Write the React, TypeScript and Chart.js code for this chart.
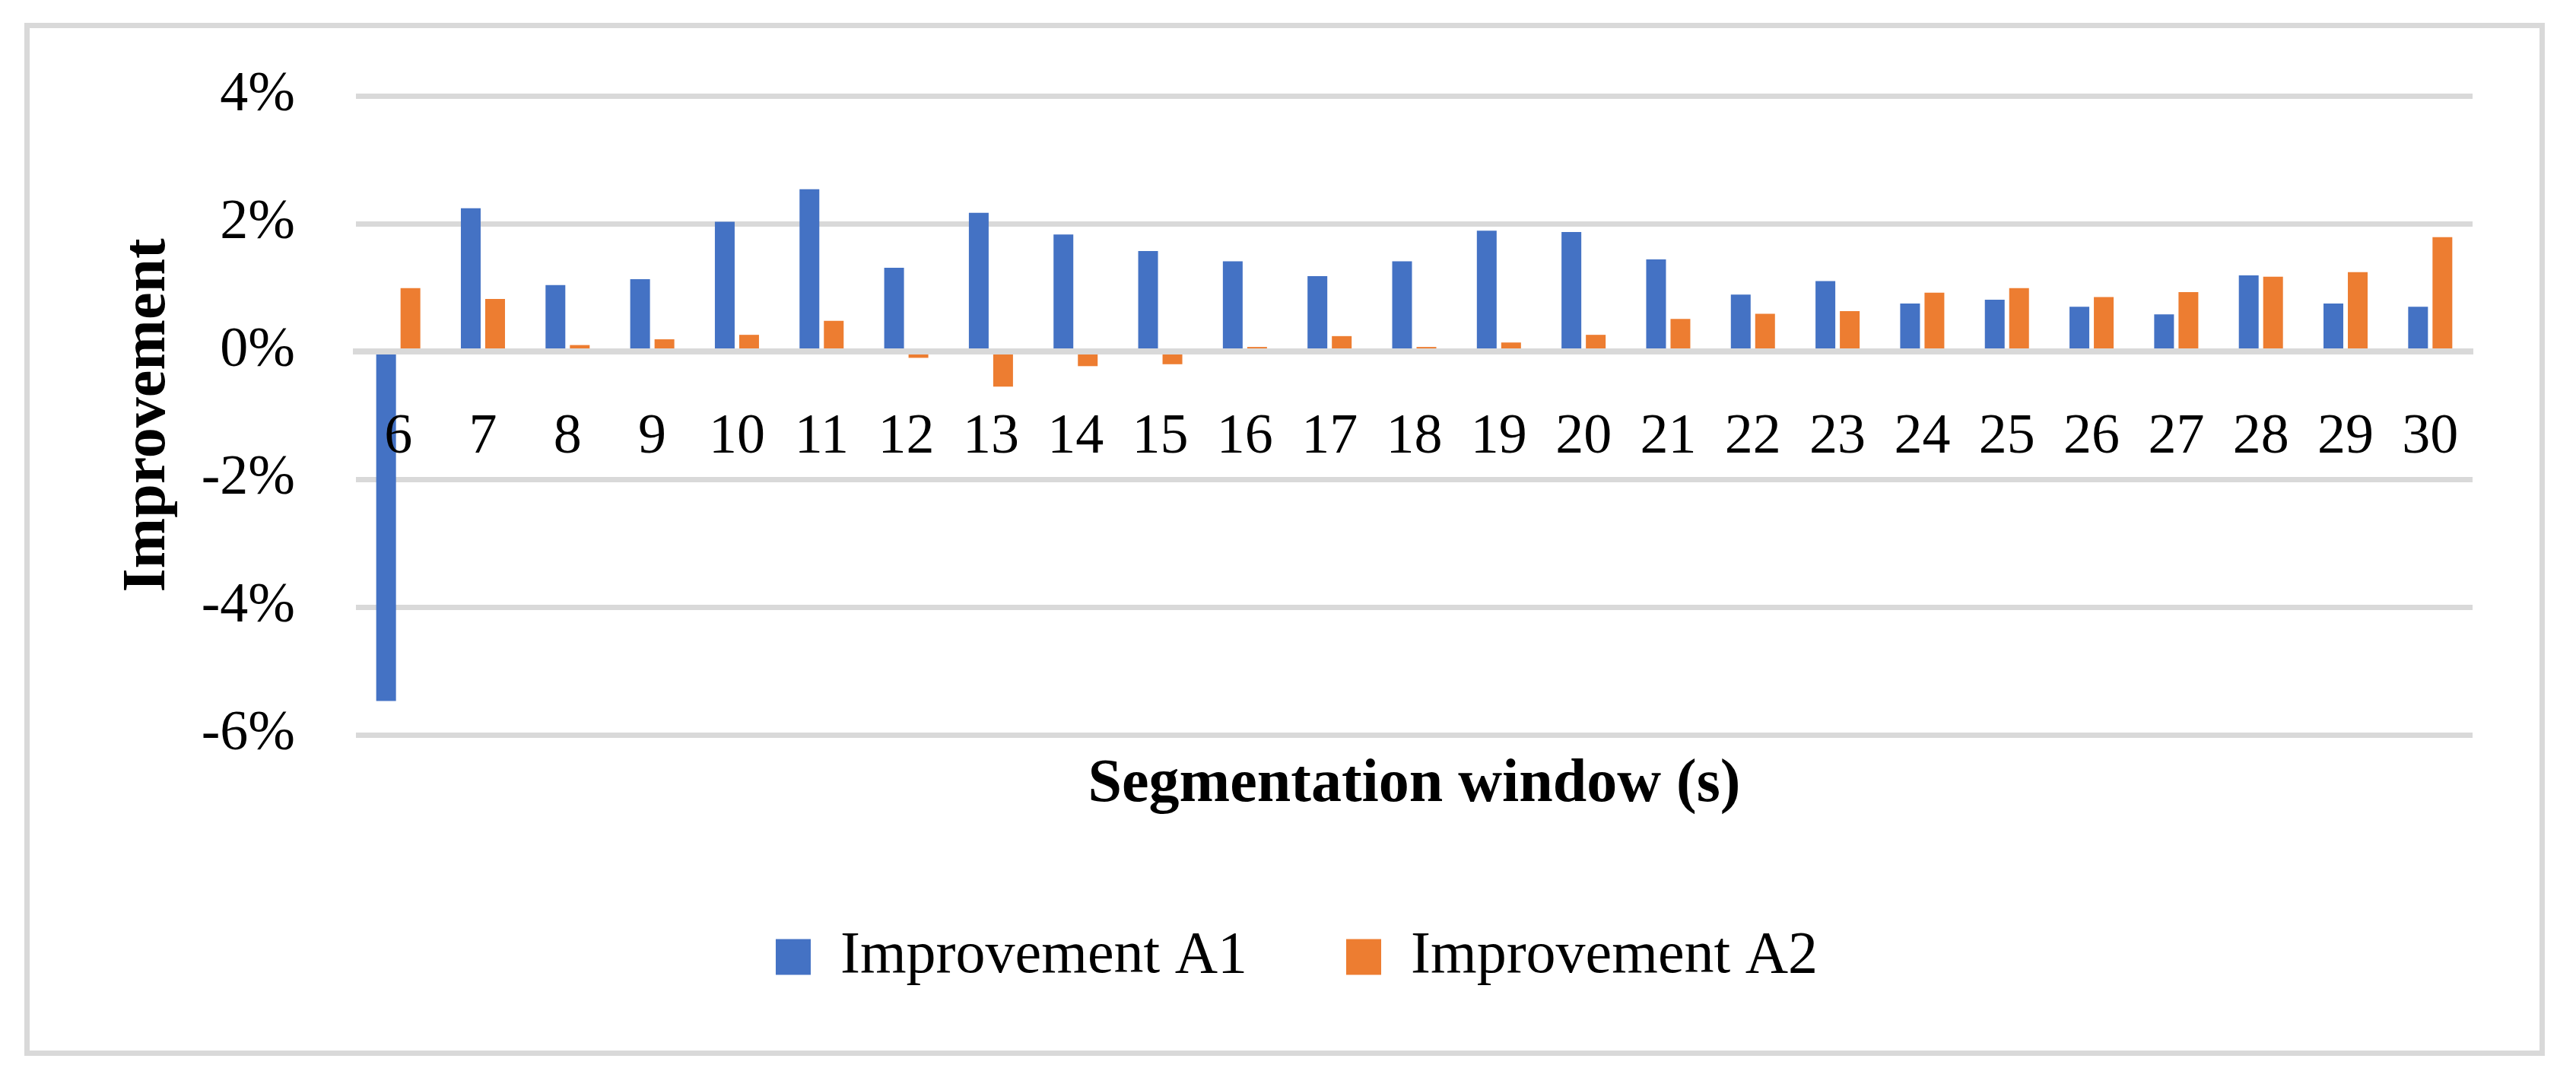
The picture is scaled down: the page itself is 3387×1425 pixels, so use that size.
import React, { useEffect, useRef } from 'react';
import { Chart, registerables } from 'chart.js';

Chart.register(...registerables);

const categories = ['6', '7', '8', '9', '10', '11', '12', '13', '14', '15', '16', '17', '18', '19', '20', '21', '22', '23', '24', '25', '26', '27', '28', '29', '30'];
const improvementA1 = [-5.47, 2.24, 1.04, 1.13, 2.03, 2.54, 1.31, 2.17, 1.83, 1.57, 1.41, 1.18, 1.41, 1.89, 1.87, 1.44, 0.89, 1.10, 0.75, 0.81, 0.70, 0.58, 1.19, 0.75, 0.70];
const improvementA2 = [0.99, 0.82, 0.10, 0.19, 0.26, 0.48, -0.10, -0.55, -0.23, -0.20, 0.07, 0.24, 0.07, 0.14, 0.26, 0.51, 0.59, 0.63, 0.92, 0.99, 0.85, 0.93, 1.17, 1.24, 1.79];
const seriesLabels = ['Improvement A1', 'Improvement A2'];
const seriesColors = ['#4472C4', '#ED7D31'];
const yTicks = [-6, -4, -2, 0, 2, 4];
const xAxisTitle = 'Segmentation window (s)';
const yAxisTitle = 'Improvement';

const W = 3387;
const H = 1425;
const FONT = '"Liberation Serif", "Times New Roman", serif';
const GRID = '#D9D9D9';

export default function App() {
  const ref = useRef<HTMLCanvasElement>(null);

  useEffect(() => {
    const canvas = ref.current;
    if (!canvas) return;
    const chart = new Chart(canvas, {
      type: 'bar',
      data: {
        labels: categories,
        datasets: [
          {
            label: seriesLabels[0],
            data: improvementA1,
            backgroundColor: seriesColors[0],
            borderWidth: 0,
            categoryPercentage: 0.575,
            barPercentage: 0.8125,
          },
          {
            label: seriesLabels[1],
            data: improvementA2,
            backgroundColor: seriesColors[1],
            borderWidth: 0,
            categoryPercentage: 0.575,
            barPercentage: 0.8125,
          },
        ],
      },
      options: {
        responsive: false,
        animation: false,
        devicePixelRatio: 1,
        layout: { padding: { left: 159, right: 136, top: 126, bottom: 118 } },
        plugins: {
          tooltip: { enabled: false },
          title: {
            display: true,
            text: xAxisTitle,
            position: 'bottom',
            fullSize: false,
            weight: 500,
            color: '#000',
            font: { family: FONT, size: 80, weight: 'bold', lineHeight: 1.2 },
            padding: { top: 18.5, bottom: 8.5 },
          },
          legend: {
            position: 'bottom',
            labels: {
              boxWidth: 46,
              boxHeight: 47,
              padding: 130,
              color: '#000',
              font: { family: FONT, size: 78 },
            },
          },
        },
        scales: {
          x: {
            position: { y: 0 },
            grid: { display: false },
            border: { display: true, color: GRID, width: 8, z: 1 },
            ticks: {
              z: 1,
              padding: 61,
              color: '#000',
              maxRotation: 0,
              autoSkip: false,
              font: { family: FONT, size: 74 },
            },
          },
          y: {
            min: yTicks[0],
            max: yTicks[yTicks.length - 1],
            afterFit: (s: any) => {
              s.width = 309;
            },
            afterBuildTicks: (s: any) => {
              s.ticks = yTicks.map((v) => ({ value: v }));
            },
            grid: { color: GRID, lineWidth: 7, drawTicks: false },
            border: { display: false },
            ticks: {
              padding: 80,
              color: '#000',
              font: { family: FONT, size: 74 },
              callback: (v: any) => `${v}%`,
            },
            title: {
              display: true,
              text: yAxisTitle,
              color: '#000',
              font: { family: FONT, size: 80, weight: 'bold', lineHeight: 0.6 },
              padding: { top: 12, bottom: 0 },
            },
          },
        },
      },
    } as any);
    return () => chart.destroy();
  }, []);

  return (
    <div style={{ position: 'fixed', left: 0, top: 0, width: W, height: H, background: '#fff' }}>
      <div
        style={{
          position: 'absolute',
          left: 32,
          top: 30,
          width: 3314,
          height: 1358,
          border: `7px solid ${GRID}`,
          boxSizing: 'border-box',
        }}
      />
      <canvas ref={ref} width={W} height={H} style={{ position: 'absolute', left: 0, top: 0, width: W, height: H }} />
    </div>
  );
}
